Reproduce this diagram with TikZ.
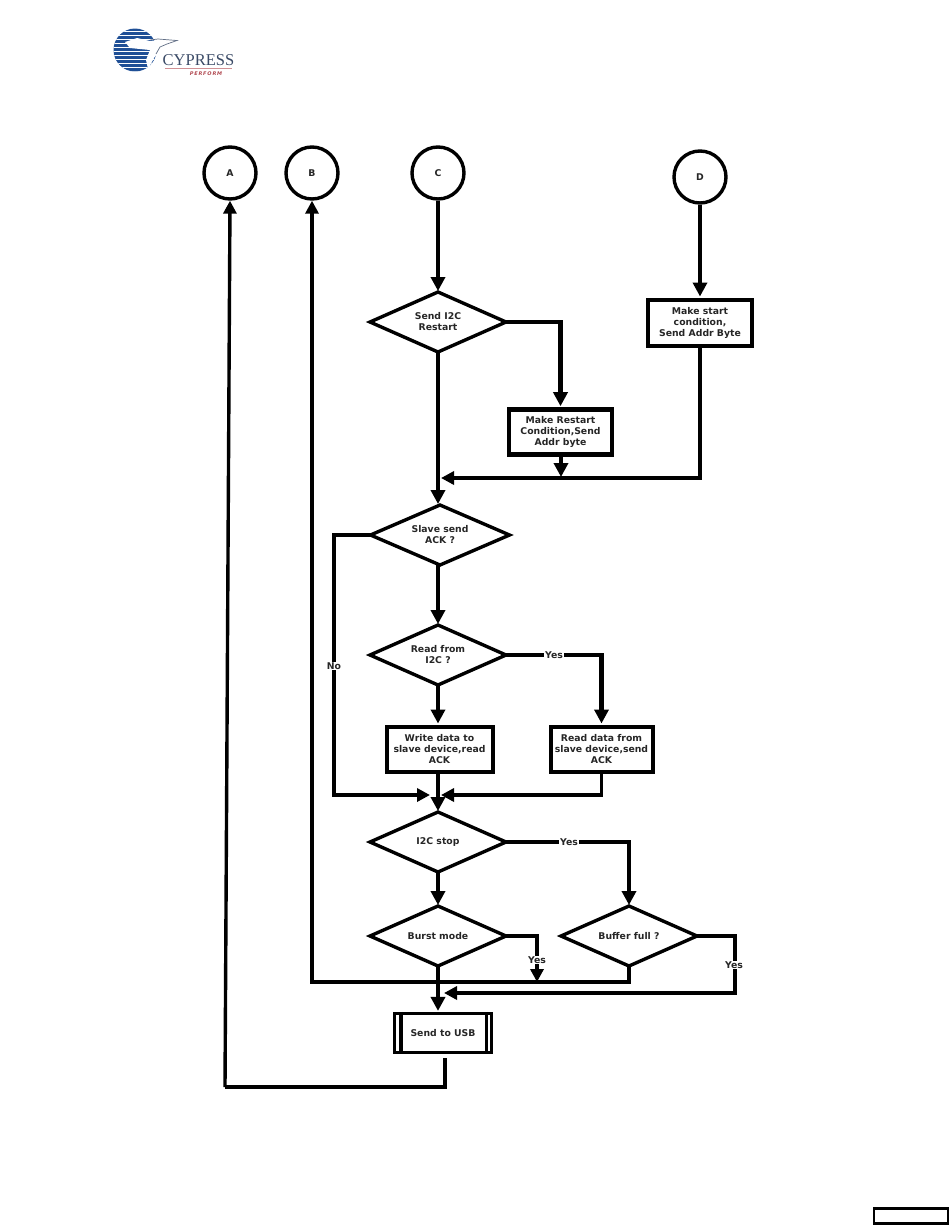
\documentclass[tikz,border=0pt]{standalone}
\usepackage{fontspec}
\setmainfont{DejaVu Sans}
\newfontfamily\logofont{Liberation Serif}
\usetikzlibrary{shapes.geometric, positioning, arrows.meta}
\definecolor{logoblue}{HTML}{1F4F96}
\definecolor{logored}{HTML}{B0474F}
\definecolor{logotext}{HTML}{3A4A66}
\tikzset{every node/.style={font=\bfseries\fontsize{9.3}{11}\selectfont,text=black!85},
         flowbox/.style={draw,line width=4pt,align=center,inner sep=0pt},
         decision/.style={draw,diamond,aspect=3,line width=3.4pt,minimum width=136pt,minimum height=60pt,align=center,inner sep=0pt,outer sep=0pt},
         connect/.style={draw,circle,line width=3.4pt,minimum size=52pt,inner sep=0pt},
         flow/.style={line width=4.4pt,shorten >=1pt,-{Triangle[width=14pt,length=14pt]}},
         thin flow/.style={line width=3.4pt,-{Triangle[width=13pt,length=13pt]}},
         plain flow/.style={line width=3.2pt},
         answer/.style={fill=white,inner sep=1pt},
        }

\begin{document}
\begin{tikzpicture}[x=1pt,y=-1pt]
        \useasboundingbox (0,0) rectangle (950,1229);

        % logo
        \begin{scope}
            \clip (135,50) circle (21.5);
            \fill[logoblue] (113,28) rectangle (157,72);
            \foreach \y in {31,35,...,71}{
                \draw[white,line width=1pt] (113,\y)--(157,\y);
            }
        \end{scope}
        \fill[white] (125,42)--(137,38)--(150,41)--(158,40)--(177,40)--(167,44)--(160,47)--(153,60)--(148,69)--(146,60)--(150,50)--(140,49)--(130,48)--cycle;
        \draw[logotext!80,line width=0.7pt](150,40)--(158,39)--(177,40.5)--(167,44)--(160,47)--(156,54);
        \node[font=\logofont\fontsize{16.5}{17}\selectfont,text=logotext,inner sep=0pt](cypress)at(198.5,60){CYPRESS};
        \node[font=\bfseries\itshape\fontsize{5}{5}\selectfont,text=logored,inner sep=0pt](perform)at(206,74){P\,E\,R\,F\,O\,R\,M};
        \draw[logored!60,line width=0.6pt](165,68.5)--(232,68.5);

        \node[connect](A)at(230,173){A};
        \node[connect](B)at(312,173){B};
        \node[connect](C)at(438,173){C};
        \node[connect](D)at(700,177){D};

        \node[decision](send)at(438,322){Send I2C\\Restart};
        \node[decision,minimum width=139pt](slave)at(440,535){Slave send\\ACK ?};
        \node[decision](read)at(438,655){Read from\\I2C ?};
        \node[decision](stop)at(438,842){I2C stop};
        \node[decision](burst)at(438,936){Burst mode};
        \node[decision](full)at(629,936){Buffer full ?};

        \node[flowbox,line width=4.6pt,minimum width=103pt,minimum height=45pt](restart)at(560.5,432){Make Restart\\Condition,Send\\Addr byte};
        \node[flowbox,minimum width=104pt,minimum height=46pt](start)at(700,322.5){Make start\\condition,\\Send Addr Byte};
        \node[flowbox,minimum width=106pt,minimum height=45pt](write)at(439.5,749){Write data to\\slave device,read\\ACK};
        \node[flowbox,minimum width=102pt,minimum height=45pt](fetch)at(601.5,749){Read data from\\slave device,send\\ACK};
        \node[flowbox,line width=3.2pt,minimum width=97pt,minimum height=39pt](usb)at(443,1033){Send to USB};
        \draw[line width=3.2pt]([xshift=8pt]usb.north west)--([xshift=8pt]usb.south west);
        \draw[line width=3.2pt]([xshift=-7pt]usb.north east)--([xshift=-7pt]usb.south east);

        \node[draw,line width=2.4pt,minimum width=74pt,minimum height=15pt,inner sep=0pt](pagebox)at(911,1216){};

        \coordinate(joinA)at(438,478);
        \coordinate(joinB)at(561,478);
        \coordinate(joinC)at(438,795);
        \coordinate(joinD)at(537,982);
        \coordinate(joinE)at(438,993);
        \coordinate(usbout)at(445,1058);
        \coordinate(usbbend)at(225,1087);
        \coordinate(fullback)at(312,982);

        \draw[flow](C.south)--(send.north);
        \draw[flow](D.south)--(start.north);
        \draw[flow](send.south)--(slave.north-|send.south);
        \draw[flow](send.east)-|(restart.north);
        \draw[flow](restart.south-|joinB)--(joinB);
        \draw[thin flow](start.south)|-([xshift=3pt]joinA);
        \draw[flow](slave.south-|read.north)--(read.north);
        \draw[thin flow](slave.west)-|(334,795)--([xshift=-8pt]joinC);
        \draw[flow](read.east)-|(fetch.north);
        \draw[flow](read.south)--(write.north-|read.south);
        \draw[flow](write.south-|stop.north)--(stop.north);
        \draw[thin flow](fetch.south)|-([xshift=3pt]joinC);
        \draw[flow](stop.east)-|(full.north);
        \draw[flow](stop.south)--(burst.north);
        \draw[flow](burst.south)--(usb.north-|burst.south);
        \draw[thin flow](burst.east)-|(joinD);
        \draw[thin flow](full.south)|-(fullback)--(B.south);
        \draw[thin flow](full.east)-|(735,993)--([xshift=6pt]joinE);
        \draw[plain flow](usbout)|-(usbbend);
        \draw[thin flow](usbbend)--(A.south);

        \node[answer](no)at(334,666){No};
        \node[answer](yes1)at(554,655){Yes};
        \node[answer](yes2)at(569,842){Yes};
        \node[answer](yes3)at(537,960){Yes};
        \node[answer](yes4)at(734,965){Yes};
    \end{tikzpicture}
\end{document}
